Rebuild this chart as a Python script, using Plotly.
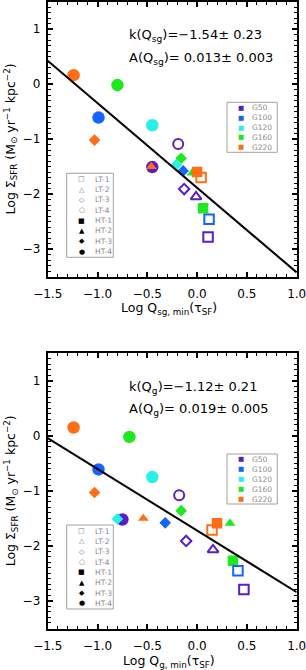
import numpy as np
import plotly.graph_objects as go

W, H = 306, 670

galaxies = ["G50", "G100", "G120", "G160", "G220"]
galaxy_colors = ["#5a1ec8", "#1464ff", "#28f0e6", "#1ee81e", "#ff6e14"]

models = ["LT-1", "LT-2", "LT-3", "LT-4", "HT-1", "HT-2", "HT-3", "HT-4"]
model_symbols = ["square-open", "triangle-up-open", "diamond-open", "circle-open",
                 "square", "triangle-up", "diamond", "circle"]
legend_glyphs = ["□", "△", "◇", "○", "■", "▲", "◆", "●"]
draw_order = ["HT-4", "HT-2", "HT-3", "HT-1", "LT-4", "LT-3", "LT-2", "LT-1"]

# ---- top panel: Q_sg ----
top_model = ["HT-4", "HT-4", "HT-4", "HT-4", "HT-4",
             "HT-3", "HT-3", "HT-3", "HT-3",
             "HT-2", "HT-2",
             "HT-1", "HT-1",
             "LT-1", "LT-1", "LT-1",
             "LT-2", "LT-3", "LT-4"]
top_galaxy = ["G50", "G100", "G120", "G160", "G220",
              "G160", "G120", "G100", "G220",
              "G160", "G220",
              "G160", "G220",
              "G50", "G100", "G220",
              "G50", "G50", "G50"]
top_logq = [-0.45, -0.99, -0.45, -0.80, -1.24,
            -0.16, -0.21, -0.14, -1.03,
            -0.05, -0.46,
            0.06, 0.00,
            0.11, 0.12, 0.04,
            -0.01, -0.13, -0.19]
top_logsfr = [-1.51, -0.61, -0.75, -0.02, 0.16,
              -1.35, -1.47, -1.58, -1.02,
              -1.62, -1.50,
              -2.26, -1.60,
              -2.78, -2.46, -1.70,
              -2.05, -1.91, -1.09]
top_k, top_k_err = -1.54, 0.23
top_A, top_A_err = 0.013, 0.003

# ---- bottom panel: Q_g ----
bot_model = ["HT-4", "HT-4", "HT-4", "HT-4", "HT-4",
             "HT-3", "HT-3", "HT-3", "HT-3",
             "HT-2", "HT-2",
             "HT-1", "HT-1",
             "LT-1", "LT-1", "LT-1",
             "LT-2", "LT-3", "LT-4"]
bot_galaxy = ["G50", "G100", "G120", "G160", "G220",
              "G160", "G120", "G100", "G220",
              "G160", "G220",
              "G160", "G220",
              "G50", "G100", "G220",
              "G50", "G50", "G50"]
bot_logq = [-0.75, -0.99, -0.45, -0.68, -1.24,
            -0.16, -0.80, -0.32, -1.03,
            0.33, -0.54,
            0.36, 0.20,
            0.47, 0.41, 0.15,
            0.16, -0.11, -0.18]
bot_logsfr = [-1.52, -0.61, -0.75, -0.02, 0.15,
              -1.36, -1.51, -1.58, -1.03,
              -1.59, -1.50,
              -2.27, -1.59,
              -2.79, -2.45, -1.71,
              -2.07, -1.91, -1.08]
bot_k, bot_k_err = -1.12, 0.21
bot_A, bot_A_err = 0.019, 0.005

x_range = [-1.5, 1.0]
y_range = [-3.5, 1.5]

def px(x):
    return x / W

def py(y):
    return 1 - y / H

# panel pixel frames (left, right, top, bottom)
panels = [
    dict(left=47.7, right=296.7, top=1.5, bottom=276.5),
    dict(left=47.7, right=296.7, top=353.2, bottom=628.5),
]

fig = go.Figure()

def size_for(sym):
    if sym.startswith("circle"):
        return 12.5 if sym == "circle" else 10
    if sym.startswith("square"):
        return 10.5 if sym == "square" else 9.5
    if sym.startswith("diamond"):
        return 9 if sym == "diamond" else 8
    return 9.5

def add_panel(idx, mdl, gal, xq, ysfr, k, A):
    xa = "x" if idx == 0 else "x2"
    ya = "y" if idx == 0 else "y2"
    for m in draw_order:
        sel = [i for i in range(len(mdl)) if mdl[i] == m]
        if not sel:
            continue
        sym = model_symbols[models.index(m)]
        cols = [galaxy_colors[galaxies.index(gal[i])] for i in sel]
        open_ = sym.endswith("open")
        fig.add_trace(go.Scatter(
            x=[xq[i] for i in sel], y=[ysfr[i] for i in sel],
            mode="markers", xaxis=xa, yaxis=ya, showlegend=False,
            name=m,
            marker=dict(symbol=sym, size=size_for(sym), color=cols,
                        line=dict(color=cols, width=2 if open_ else 0)),
        ))
    xs = np.array(x_range)
    fig.add_trace(go.Scatter(
        x=xs, y=np.log10(A) + k * xs, mode="lines", xaxis=xa, yaxis=ya,
        showlegend=False, line=dict(color="black", width=2),
    ))

add_panel(0, top_model, top_galaxy, top_logq, top_logsfr, top_k, top_A)
add_panel(1, bot_model, bot_galaxy, bot_logq, bot_logsfr, bot_k, bot_A)

FONT = "DejaVu Sans"
axis_common = dict(
    showline=True, linecolor="black", linewidth=2, mirror="ticks",
    ticks="inside", ticklen=5, tickwidth=1.5, tickcolor="black",
    showgrid=False, zeroline=False, automargin=False,
    ticklabeloverflow="allow",
    tickfont=dict(family=FONT, size=12, color="black"),
    minor=dict(ticks="inside", ticklen=3, tickwidth=1, tickcolor="black",
               showgrid=False),
)

layout = dict(width=W, height=H, margin=dict(l=0, r=0, t=0, b=0, pad=0),
              autosize=False,
              paper_bgcolor="white", plot_bgcolor="white", showlegend=False)

for i, p in enumerate(panels):
    sx = "" if i == 0 else "2"
    xd = [px(p["left"]), px(p["right"])]
    yd = [py(p["bottom"]), py(p["top"])]
    xax = dict(axis_common, domain=xd, range=x_range, tick0=-1.5, dtick=0.5,
               tickformat=".1f", anchor="y" + sx, ticklabelstandoff=5)
    xax["minor"] = dict(axis_common["minor"], dtick=0.1)
    yax = dict(axis_common, domain=yd, range=y_range, tick0=0, dtick=1,
               tickformat="d", anchor="x" + sx, ticklabelstandoff=3)
    yax["minor"] = dict(axis_common["minor"], dtick=0.1)
    layout["xaxis" + sx] = xax
    layout["yaxis" + sx] = yax

fig.update_layout(**layout)

annotations = []
shapes = []

sub = ["sg", "g"]
fits = [(top_k, top_k_err, top_A, top_A_err), (bot_k, bot_k_err, bot_A, bot_A_err)]
fit_y = [(35, 58), (387, 409)]
xtitle_y = [308, 661]

for i, p in enumerate(panels):
    k, ke, A, Ae = fits[i]
    s = sub[i]
    ks = f"{k:.2f}".replace("-", "\u2212")
    annotations.append(dict(
        text=f"k(Q<sub>{s}</sub>)={ks}± {ke:.2f}", x=px(127), y=py(fit_y[i][0]),
        xref="paper", yref="paper", xanchor="left", yanchor="middle",
        showarrow=False, font=dict(family=FONT, size=13, color="black")))
    annotations.append(dict(
        text=f"A(Q<sub>{s}</sub>)= {A:.3f}± {Ae:.3f}", x=px(127), y=py(fit_y[i][1]),
        xref="paper", yref="paper", xanchor="left", yanchor="middle",
        showarrow=False, font=dict(family=FONT, size=13, color="black")))
    # axis titles
    annotations.append(dict(
        text=f"Log Q<sub>{s}, min</sub>(τ<sub>SF</sub>)",
        x=px((p["left"] + p["right"]) / 2 - 3), y=py(xtitle_y[i]),
        xref="paper", yref="paper", xanchor="center", yanchor="middle",
        showarrow=False, font=dict(family=FONT, size=12.5, color="black")))
    annotations.append(dict(
        text="Log Σ<sub>SFR</sub> (M<sub>⊙</sub> yr<sup>−1</sup> kpc<sup>−2</sup>)",
        x=px(10.5), y=py((p["top"] + p["bottom"]) / 2),
        xref="paper", yref="paper", xanchor="center", yanchor="middle",
        textangle=-90, showarrow=False,
        font=dict(family=FONT, size=12.5, color="black")))

    off = p["top"] - 1.5
    # galaxy legend box
    shapes.append(dict(type="rect", xref="paper", yref="paper",
                       x0=px(227), x1=px(277.3), y0=py(152.3 + off), y1=py(102.3 + off),
                       line=dict(color="#a0a0a0", width=1), fillcolor="white"))
    for j, g in enumerate(galaxies):
        yy = 107.7 + 9.9 * j + off
        annotations.append(dict(text="■", x=px(240.7), y=py(yy), xref="paper", yref="paper",
                                xanchor="center", yanchor="middle", showarrow=False,
                                font=dict(family=FONT, size=6.5, color=galaxy_colors[j])))
        annotations.append(dict(text=g, x=px(250.3), y=py(yy), xref="paper", yref="paper",
                                xanchor="left", yanchor="middle", showarrow=False,
                                font=dict(family=FONT, size=7.5, color="#8a8a8a")))
    # model legend box
    shapes.append(dict(type="rect", xref="paper", yref="paper",
                       x0=px(66.7), x1=px(113.3), y0=py(257.3 + off), y1=py(173.3 + off),
                       line=dict(color="#a0a0a0", width=1), fillcolor="white"))
    for j, m in enumerate(models):
        yy = 179.3 + 10.34 * j + off
        gcol = "#707070" if j < 4 else "black"
        annotations.append(dict(text=legend_glyphs[j], x=px(81.7), y=py(yy), xref="paper",
                                yref="paper", xanchor="center", yanchor="middle",
                                showarrow=False,
                                font=dict(family=FONT, size=7, color=gcol)))
        annotations.append(dict(text=m, x=px(92.5), y=py(yy), xref="paper", yref="paper",
                                xanchor="left", yanchor="middle", showarrow=False,
                                font=dict(family=FONT, size=7.5, color="#8a8a8a")))

fig.update_layout(annotations=annotations, shapes=shapes)

fig.write_html("out.html", config={"displayModeBar": False},
               post_script="document.body.style.margin='0';document.body.style.padding='0';")
